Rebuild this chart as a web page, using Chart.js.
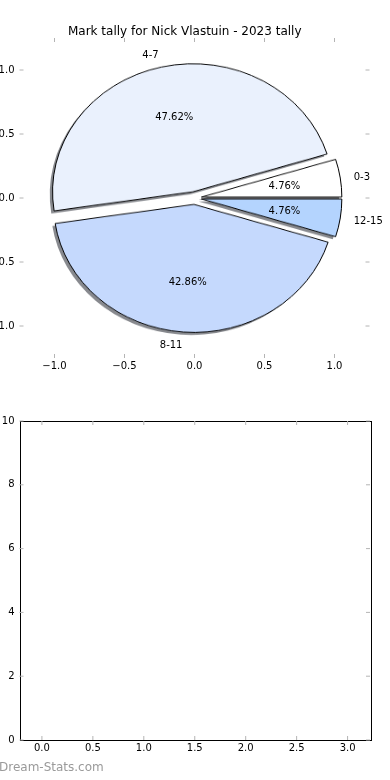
<!DOCTYPE html>
<html>
<head>
<meta charset="utf-8">
<script src="https://cdn.jsdelivr.net/npm/chart.js@4.4.0/dist/chart.umd.min.js"></script>
<style>
  body { margin: 0; background: #fff; }
  #wrap { position: relative; width: 390px; height: 780px; overflow: hidden; background: #fff; font-family: "DejaVu Sans", sans-serif; }
  canvas { position: absolute; left: 0; }
  #pieChart { top: 0; transform: scaleY(0.9117); transform-origin: 0 198px; }
  #pieAxes { top: 0; }
  #emptyChart { top: 390px; }
  #credit { position: absolute; left: -1px; top: 760px; font-size: 12px; color: #9a9a9a; }
</style>
</head>
<body>
<div id="wrap">
  <canvas id="pieChart" width="390" height="390"></canvas>
  <canvas id="pieAxes" width="390" height="390"></canvas>
  <canvas id="emptyChart" width="390" height="390"></canvas>
  <div id="credit">Dream-Stats.com</div>
</div>
<script>
const chartTitle = "Mark tally for Nick Vlastuin - 2023 tally";
const markRanges = ["0-3", "4-7", "8-11", "12-15"];
const gameCounts = [1, 10, 9, 1];
const sliceColors = ["#ffffff", "#eaf1fd", "#c5d9fd", "#b4d4fe"];
const explode = 0.05;
const pieTicks = [-1, -0.5, 0, 0.5, 1];
const emptyXTicks = [0, 0.5, 1, 1.5, 2, 2.5, 3];
const emptyYTicks = [0, 2, 4, 6, 8, 10];

Chart.defaults.font.family = '"DejaVu Sans", sans-serif';
Chart.defaults.font.size = 10;
Chart.defaults.color = "#000";

const total = gameCounts.reduce((a, b) => a + b, 0);
const pieRadius = 140.4; // px for 1.0 on the x axis
const fmt1 = (v) => v.toFixed(1).replace("-", "\u2212");
// matplotlib runs counter-clockwise from 3 o'clock, chart.js clockwise
const rev = (arr) => arr.slice().reverse();

// push each wedge out along its middle angle (matplotlib explode)
const explodePlugin = {
  id: "explode",
  afterDatasetUpdate(chart, args) {
    args.meta.data.forEach((arc) => {
      const mid = (arc.startAngle + arc.endAngle) / 2;
      arc.x += Math.cos(mid) * explode * pieRadius;
      arc.y += Math.sin(mid) * explode * pieRadius;
    });
  },
};

// draw the wedge fills once with a drop shadow, under the normal wedges
const shadowPlugin = {
  id: "wedgeShadow",
  beforeDatasetsDraw(chart) {
    const ctx = chart.ctx;
    ctx.save();
    ctx.shadowColor = "rgba(55, 58, 66, 0.6)";
    ctx.shadowOffsetX = -2.8;
    ctx.shadowOffsetY = 2.8;
    ctx.shadowBlur = 0;
    chart.getDatasetMeta(0).data.forEach((arc) => {
      const noBorder = Object.create(arc);
      noBorder.options = Object.assign({}, arc.options, { borderWidth: 0 });
      noBorder.draw(ctx);
    });
    ctx.restore();
  },
};

// inward grey tick marks on all four sides, optional black frame
function innerTicks(frame) {
  return {
    id: "innerTicks",
    afterDraw(chart) {
      const { ctx, chartArea: a, scales: { x, y } } = chart;
      ctx.save();
      if (frame) {
        ctx.strokeStyle = "#000";
        ctx.lineWidth = 1;
        ctx.strokeRect(Math.round(a.left) + 0.5, Math.round(a.top) + 0.5, Math.round(a.right - a.left), Math.round(a.bottom - a.top));
      }
      ctx.strokeStyle = "#b4b4b4";
      ctx.lineWidth = 1;
      ctx.beginPath();
      x.ticks.forEach((t) => {
        const px = x.getPixelForValue(t.value);
        ctx.moveTo(px, a.top); ctx.lineTo(px, a.top + 4);
        ctx.moveTo(px, a.bottom); ctx.lineTo(px, a.bottom - 4);
      });
      y.ticks.forEach((t) => {
        const py = y.getPixelForValue(t.value);
        ctx.moveTo(a.left, py); ctx.lineTo(a.left + 4, py);
        ctx.moveTo(a.right, py); ctx.lineTo(a.right - 4, py);
      });
      ctx.stroke();
      ctx.restore();
    },
  };
}

// wedge names and percentages, placed in data units like matplotlib
const pieLabels = {
  id: "pieLabels",
  afterDraw(chart) {
    const { ctx, scales: { x, y } } = chart;
    ctx.save();
    ctx.font = '10px "DejaVu Sans"';
    ctx.fillStyle = "#000";
    ctx.textBaseline = "middle";
    let start = 0;
    gameCounts.forEach((n, i) => {
      const frac = n / total;
      const mid = (start + frac / 2) * 2 * Math.PI;
      start += frac;
      const c = Math.cos(mid), s = Math.sin(mid);
      const lx = (explode + 1.1) * c, ly = (explode + 1.1) * s;
      ctx.textAlign = lx > 0 ? "left" : "right";
      ctx.fillText(markRanges[i], x.getPixelForValue(lx), y.getPixelForValue(ly) + 1);
      ctx.textAlign = "center";
      ctx.fillText((frac * 100).toFixed(2) + "%", x.getPixelForValue((explode + 0.6) * c), y.getPixelForValue((explode + 0.6) * s) + 1);
    });
    ctx.restore();
  },
};

new Chart(document.getElementById("pieChart"), {
  type: "pie",
  data: {
    labels: rev(markRanges),
    datasets: [{
      data: rev(gameCounts),
      backgroundColor: rev(sliceColors),
      borderColor: "#000",
      borderWidth: 1,
      borderJoinStyle: "miter",
    }],
  },
  options: {
    responsive: false,
    animation: false,
    events: [],
    rotation: 90,
    radius: pieRadius,
    layout: { padding: { left: 19.5, right: 20.5, top: 38, bottom: 32 } },
    plugins: { legend: { display: false }, tooltip: { enabled: false } },
  },
  plugins: [explodePlugin, shadowPlugin],
});

new Chart(document.getElementById("pieAxes"), {
  type: "scatter",
  data: { datasets: [] },
  options: {
    responsive: false,
    animation: false,
    events: [],
    layout: { padding: { left: 0, right: 20.5, top: 0, bottom: 0 } },
    scales: {
      x: {
        type: "linear", min: -1.25, max: 1.25,
        afterBuildTicks: (s) => { s.ticks = pieTicks.map((v) => ({ value: v })); },
        afterFit: (s) => { s.height = 32; },
        ticks: { padding: 2, callback: fmt1 },
        grid: { display: false, drawTicks: false },
        border: { display: false },
      },
      y: {
        type: "linear", min: -1.25, max: 1.25,
        afterBuildTicks: (s) => { s.ticks = pieTicks.map((v) => ({ value: v })); },
        afterFit: (s) => { s.width = 19.5; },
        ticks: { padding: 5, callback: fmt1 },
        grid: { display: false, drawTicks: false },
        border: { display: false },
      },
    },
    plugins: {
      legend: { display: false },
      tooltip: { enabled: false },
      title: {
        display: true,
        text: chartTitle,
        font: { size: 12, weight: "normal", lineHeight: 1 },
        color: "#000",
        padding: { top: 26, bottom: 0 },
      },
    },
  },
  plugins: [innerTicks(false), pieLabels],
});

new Chart(document.getElementById("emptyChart"), {
  type: "scatter",
  data: { datasets: [] },
  options: {
    responsive: false,
    animation: false,
    events: [],
    layout: { padding: { left: 0, right: 20, top: 31, bottom: 0 } },
    scales: {
      x: {
        type: "linear", min: -0.22, max: 3.22,
        afterBuildTicks: (s) => { s.ticks = emptyXTicks.map((v) => ({ value: v })); },
        afterFit: (s) => { s.height = 40; },
        ticks: { padding: 2, callback: fmt1 },
        grid: { display: false, drawTicks: false },
        border: { display: false },
      },
      y: {
        type: "linear", min: 0, max: 10,
        afterBuildTicks: (s) => { s.ticks = emptyYTicks.map((v) => ({ value: v })); },
        afterFit: (s) => { s.width = 19.5; },
        ticks: { padding: 5, callback: (v) => String(v) },
        grid: { display: false, drawTicks: false },
        border: { display: false },
      },
    },
    plugins: { legend: { display: false }, tooltip: { enabled: false } },
  },
  plugins: [innerTicks(true)],
});
</script>
</body>
</html>
